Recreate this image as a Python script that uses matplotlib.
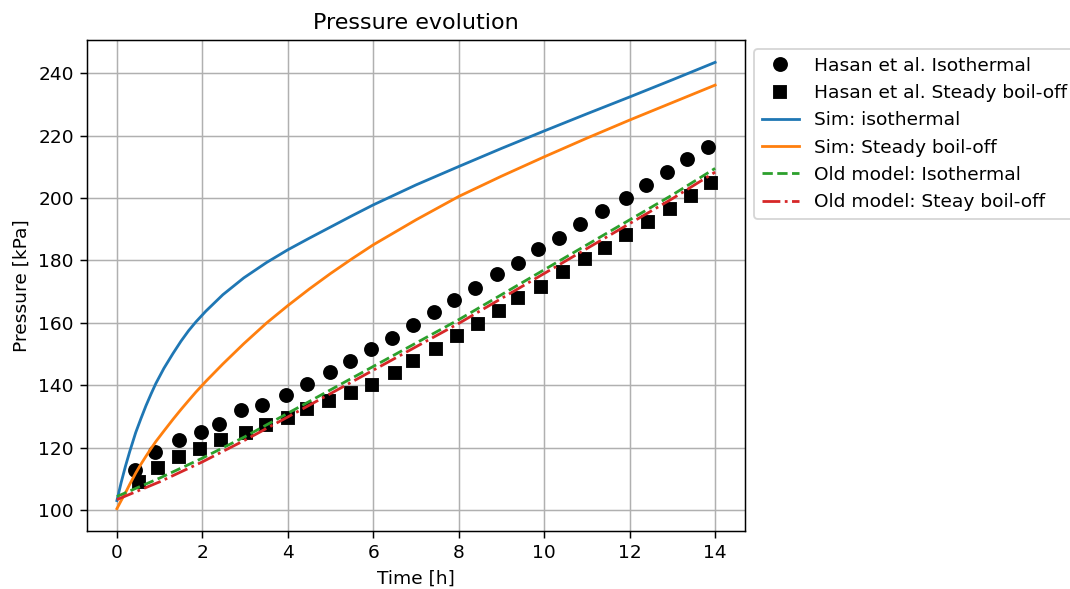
import matplotlib
matplotlib.use("Agg")
import matplotlib.pyplot as plt

# Hasan et al. measured points
t_iso = [0.42, 0.89, 1.45, 1.96, 2.38, 2.90, 3.39, 3.95, 4.46, 4.98, 5.45, 5.94, 6.43, 6.94,
         7.41, 7.90, 8.37, 8.90, 9.39, 9.86, 10.35, 10.84, 11.36, 11.92, 12.39, 12.88, 13.34, 13.83]
p_iso = [112.8, 118.6, 122.5, 125.0, 127.6, 132.0, 133.7, 137.0, 140.5, 144.3, 147.8, 151.7, 155.2, 159.4,
         163.3, 167.4, 171.3, 175.5, 179.2, 183.8, 187.3, 191.8, 195.7, 199.9, 204.3, 208.2, 212.4, 216.2]

t_boil = [0.51, 0.96, 1.45, 1.94, 2.43, 3.02, 3.48, 4.00, 4.46, 4.96, 5.47, 5.96, 6.50, 6.94,
          7.46, 7.97, 8.44, 8.95, 9.39, 9.93, 10.44, 10.96, 11.43, 11.92, 12.43, 12.95, 13.44, 13.91]
p_boil = [109.0, 113.5, 117.0, 119.6, 122.5, 124.7, 127.3, 129.5, 132.3, 135.0, 137.6, 140.1, 144.0, 147.8,
          151.7, 155.9, 159.7, 163.9, 167.8, 171.6, 176.4, 180.3, 184.1, 188.3, 192.2, 196.6, 200.5, 204.7]

# simulation curves
t_sim = [0, 0.1, 0.2, 0.3, 0.44, 0.56, 0.68, 0.8, 0.91, 1.1, 1.31, 1.5, 1.68, 1.85, 2.08, 2.48,
         2.97, 3.5, 4, 4.5, 5, 5.5, 6, 7, 8, 9, 10, 11, 12, 13, 14]
p_sim_iso = [103.0, 108.8, 114.0, 118.7, 124.8, 129.2, 133.4, 137.2, 140.5, 145.4, 150.1, 154.1,
             157.5, 160.3, 163.7, 169.0, 174.4, 179.3, 183.4, 187.1, 190.7, 194.3, 197.8, 204.2,
             210.1, 215.9, 221.5, 227.0, 232.4, 237.9, 243.5]
p_sim_boil = [100.4, 103.0, 105.5, 108.2, 111.8, 114.6, 117.2, 119.7, 121.9, 125.3, 129.0, 132.2,
              135.1, 137.8, 141.2, 146.8, 153.3, 159.9, 165.5, 170.8, 175.8, 180.5, 185.0, 193.0,
              200.5, 207.0, 213.2, 219.2, 225.0, 230.6, 236.2]

# old model
t_old = [0, 1, 2, 3, 4, 5, 6, 7, 8, 9, 10, 11, 12, 13, 14]
p_old_iso = [104.3, 110.2, 116.6, 123.5, 131.0, 138.5, 146.0, 153.5, 161.0, 169.0, 177.0, 185.0,
             193.0, 201.0, 209.5]
p_old_boil = [103.3, 109.0, 115.4, 122.4, 129.8, 137.3, 144.8, 152.3, 159.8, 167.8, 175.8, 183.8,
              191.8, 199.8, 208.3]

fig = plt.figure(figsize=(8.0, 4.404), dpi=133.75)
ax = fig.add_axes([0.0813, 0.0985, 0.6150, 0.8335])

ax.plot(t_iso, p_iso, "ko", ms=7, label="Hasan et al. Isothermal")
ax.plot(t_boil, p_boil, "ks", ms=6.5, label="Hasan et al. Steady boil-off")
ax.plot(t_sim, p_sim_iso, color="C0", label="Sim: isothermal")
ax.plot(t_sim, p_sim_boil, color="C1", label="Sim: Steady boil-off")
ax.plot(t_old, p_old_iso, "--", color="C2", label="Old model: Isothermal")
ax.plot(t_old, p_old_boil, "-.", color="C3", label="Old model: Steay boil-off")

ax.set_title("Pressure evolution")
ax.set_xlabel("Time [h]")
ax.set_ylabel("Pressure [kPa]")
ax.grid(True)
ax.legend(loc="upper left", bbox_to_anchor=(1.0, 1.0))

fig.savefig("out.png", dpi=133.75)
